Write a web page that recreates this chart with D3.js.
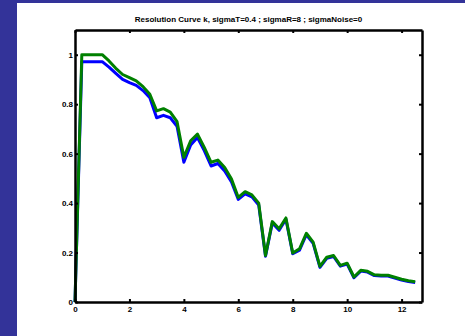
<!DOCTYPE html>
<html>
<head>
<meta charset="utf-8">
<script src="https://cdn.jsdelivr.net/npm/d3@7"></script>
<style>
  body { margin: 0; background: #fff; }
  svg { display: block; }
  text { font-family: Arial, "Liberation Sans", Helvetica, sans-serif; font-weight: bold; }
</style>
</head>
<body>
<script>
// x positions of the samples
var xs = [0, 0.25, 0.5, 0.75, 1, 1.25, 1.5, 1.75, 2, 2.25, 2.5, 2.75, 3, 3.25, 3.5, 3.75,
    4, 4.25, 4.5, 4.75, 5, 5.25, 5.5, 5.75, 6, 6.25, 6.5, 6.75, 7, 7.25, 7.5, 7.75,
    8, 8.25, 8.5, 8.75, 9, 9.25, 9.5, 9.75, 10, 10.25, 10.5, 10.75, 11, 11.25, 11.5, 11.75,
    12, 12.25, 12.5];

var blueK = [0, 0.972, 0.972, 0.972, 0.972, 0.95, 0.925, 0.9, 0.887, 0.876, 0.855, 0.826, 0.745, 0.755, 0.745, 0.71,
    0.565, 0.635, 0.665, 0.612, 0.55, 0.56, 0.53, 0.485, 0.415, 0.437, 0.425, 0.392, 0.185, 0.32, 0.29, 0.335,
    0.195, 0.21, 0.272, 0.237, 0.14, 0.177, 0.184, 0.145, 0.153, 0.098, 0.125, 0.121, 0.107, 0.105, 0.105, 0.097,
    0.089, 0.083, 0.079];

var greenK = [0, 1.0, 1.0, 1.0, 1.0, 0.975, 0.945, 0.92, 0.907, 0.894, 0.871, 0.84, 0.773, 0.782, 0.768, 0.729,
    0.585, 0.652, 0.679, 0.625, 0.565, 0.574, 0.544, 0.497, 0.423, 0.446, 0.433, 0.4, 0.188, 0.325, 0.296, 0.34,
    0.198, 0.215, 0.278, 0.242, 0.144, 0.181, 0.188, 0.148, 0.157, 0.101, 0.128, 0.124, 0.11, 0.108, 0.108, 0.1,
    0.092, 0.086, 0.082];

var xTicks = [0, 2, 4, 6, 8, 10, 12];
var yTicks = [0, 0.2, 0.4, 0.6, 0.8, 1];
var title = "Resolution Curve k, sigmaT=0.4 ; sigmaR=8 ; sigmaNoise=0";

var W = 465, H = 336;
var margin = { top: 30, right: 43, bottom: 34, left: 75 },
    width = W - margin.left - margin.right,
    height = H - margin.top - margin.bottom;

var svg = d3.select("body").append("svg")
    .attr("width", W)
    .attr("height", H);

// dark frame on the left and top
svg.append("rect").attr("x", 0).attr("y", 0).attr("width", 17).attr("height", H).attr("fill", "#333399");
svg.append("rect").attr("x", 0).attr("y", 0).attr("width", W).attr("height", 3).attr("fill", "#333399");

var g = svg.append("g")
    .attr("transform", "translate(" + margin.left + "," + margin.top + ")");

var x = d3.scaleLinear().domain([0, 12.75]).range([0, width]);
var y = d3.scaleLinear().domain([0, 1.1]).range([height, 0]);

var line = d3.line()
    .x(function (d) { return x(d[0]); })
    .y(function (d) { return y(d[1]); });

g.append("path")
    .datum(xs.map(function (v, i) { return [v, blueK[i]]; }))
    .attr("fill", "none").attr("stroke", "#0000ff").attr("stroke-width", 3)
    .attr("stroke-linejoin", "round")
    .attr("d", line);

g.append("path")
    .datum(xs.map(function (v, i) { return [v, greenK[i]]; }))
    .attr("fill", "none").attr("stroke", "#008000").attr("stroke-width", 3)
    .attr("stroke-linejoin", "round")
    .attr("d", line);

// axes, ticks pointing inward
var styleAxis = function (sel) {
    sel.select(".domain").attr("stroke", "#000").attr("stroke-width", 2.5);
    sel.selectAll(".tick line").attr("stroke", "#000").attr("stroke-width", 2);
    sel.selectAll("text").attr("fill", "#000").style("font-size", "8px").style("font-weight", "bold");
};

g.append("g")
    .attr("transform", "translate(0," + height + ")")
    .call(d3.axisBottom(x).tickValues(xTicks).tickFormat(d3.format("d")).tickSizeInner(-3).tickSizeOuter(0).tickPadding(4))
    .call(styleAxis);

g.append("g")
    .call(d3.axisTop(x).tickValues(xTicks).tickFormat("").tickSizeInner(-3).tickSizeOuter(0))
    .call(styleAxis);

g.append("g")
    .call(d3.axisLeft(y).tickValues(yTicks).tickFormat(function (d) { return d === 0 || d === 1 ? d : d3.format(".1f")(d); }).tickSizeInner(-3).tickSizeOuter(0).tickPadding(2))
    .call(styleAxis);

g.append("g")
    .attr("transform", "translate(" + width + ",0)")
    .call(d3.axisRight(y).tickValues(yTicks).tickFormat("").tickSizeInner(-3).tickSizeOuter(0))
    .call(styleAxis);

svg.append("text")
    .attr("x", margin.left + width / 2)
    .attr("y", 22)
    .attr("text-anchor", "middle")
    .style("font-size", "8px")
    .text(title);
</script>
</body>
</html>
